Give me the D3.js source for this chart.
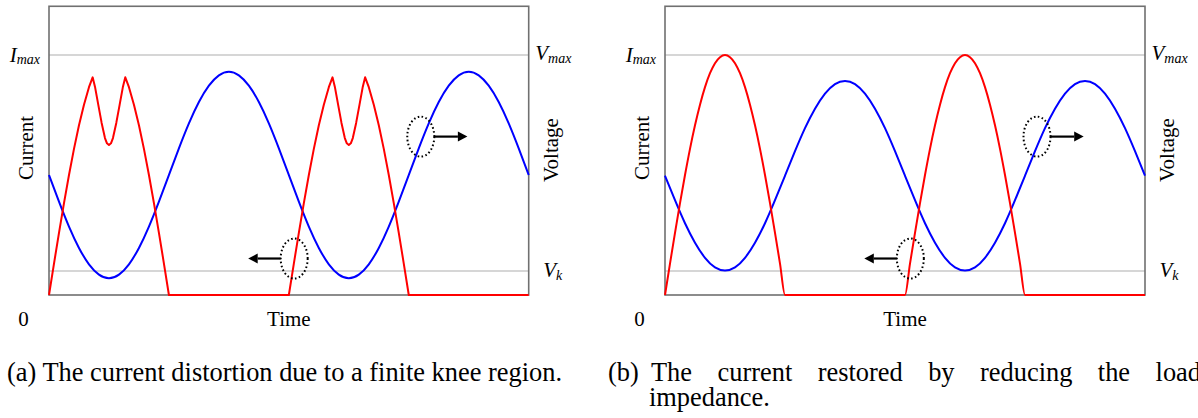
<!DOCTYPE html>
<html><head><meta charset="utf-8">
<script src="https://cdn.jsdelivr.net/npm/d3@7"></script>
<style>
html,body{margin:0;padding:0;background:#fff;overflow:hidden;}
svg{display:block;}
text{font-family:'Liberation Serif','Times New Roman',Times,'DejaVu Serif',serif;}
</style></head><body>
<svg id="chart" width="1198" height="418"></svg>
<script>
// ---- data (phase in degrees, values normalised so that Imax = Vmax = 1) ----
const voltagePhase = [0,15,30,45,60,75,90,105,120,135,150,165,180,195,210,225,240,255,270,285,300,315,330,345,
  360,375,390,405,420,435,450,465,480,495,510,525,540,555,570,585,600,615,630,645,660,675,690,705,720];
const voltageA = [0.500,0.389,0.285,0.196,0.128,0.085,0.070,0.085,0.128,0.196,0.285,0.389,0.500,0.611,0.715,0.804,0.872,0.915,0.930,0.915,0.872,0.804,0.715,0.611,
  0.500,0.389,0.285,0.196,0.128,0.085,0.070,0.085,0.128,0.196,0.285,0.389,0.500,0.611,0.715,0.804,0.872,0.915,0.930,0.915,0.872,0.804,0.715,0.611,0.500];
const voltageB = [0.497,0.395,0.299,0.218,0.155,0.115,0.102,0.115,0.155,0.218,0.299,0.395,0.497,0.599,0.695,0.776,0.839,0.879,0.892,0.879,0.839,0.776,0.695,0.599,
  0.497,0.395,0.299,0.218,0.155,0.115,0.102,0.115,0.155,0.218,0.299,0.395,0.497,0.599,0.695,0.776,0.839,0.879,0.892,0.879,0.839,0.776,0.695,0.599,0.497];

const currentAPhase = [0,7.5,15,22.5,30,37.5,45,52.5,60,65.5,69,74,79,84,87,90,93,96,101,106,111,114.5,120,127.5,135,142.5,150,157.5,165,172.5,180,
  360,367.5,375,382.5,390,397.5,405,412.5,420,425.5,429,434,439,444,447,450,453,456,461,466,471,474.5,480,487.5,495,502.5,510,517.5,525,532.5,540,720];
const currentA = [0,0.131,0.259,0.383,0.500,0.609,0.707,0.793,0.866,0.907,0.868,0.792,0.717,0.654,0.632,0.625,0.632,0.654,0.717,0.792,0.868,0.907,0.866,0.793,0.707,0.609,0.500,0.383,0.259,0.131,0,
  0,0.131,0.259,0.383,0.500,0.609,0.707,0.793,0.866,0.907,0.868,0.792,0.717,0.654,0.632,0.625,0.632,0.654,0.717,0.792,0.868,0.907,0.866,0.793,0.707,0.609,0.500,0.383,0.259,0.131,0,0];

const currentBPhase = [0,7.5,15,22.5,30,37.5,45,52.5,60,67.5,75,82.5,90,97.5,105,112.5,120,127.5,135,142.5,150,157.5,165,172.5,180,
  360,367.5,375,382.5,390,397.5,405,412.5,420,427.5,435,442.5,450,457.5,465,472.5,480,487.5,495,502.5,510,517.5,525,532.5,540,720];
const currentB = [0,0.131,0.259,0.383,0.500,0.609,0.707,0.793,0.866,0.924,0.966,0.991,1.000,0.991,0.966,0.924,0.866,0.793,0.707,0.609,0.500,0.383,0.259,0.131,0,
  0,0.131,0.259,0.383,0.500,0.609,0.707,0.793,0.866,0.924,0.966,0.991,1.000,0.991,0.966,0.924,0.866,0.793,0.707,0.609,0.500,0.383,0.259,0.131,0,0];

const gridLevels = [1, 0.1];          // Imax/Vmax and Vk
const topLevel = 1.203;
const markerPhase = [558, 368];       // dotted ellipses
const markerLevel = [0.66, 0.152];
const arrowTipPhase = [628, 299];
const captionA = "(a) The current distortion due to a finite knee region.";
const captionBLine1 = ["The","current","restored","by","reducing","the","load"];
const captionBLine2 = "impedance.";

// ---- layout ----
const panels = [
  {left:49, right:528.7, volt:voltageA, curPh:currentAPhase, cur:currentA, curve:d3.curveLinear},
  {left:665, right:1145, volt:voltageB, curPh:currentBPhase, cur:currentB, curve:d3.curveMonotoneX}
];
const svg = d3.select("#chart");
const FONT = "'Liberation Serif','Times New Roman',Times,'DejaVu Serif',serif";
const y = d3.scaleLinear().domain([0,1]).range([295,55]);
const FS = 21;

panels.forEach((p,pi)=>{
  const x = d3.scaleLinear().domain([0,720]).range([p.left,p.right]);
  const g = svg.append("g").attr("font-family",FONT).attr("fill","#000");
  g.selectAll("line.grid").data(gridLevels).join("line")
    .attr("x1",x(0)).attr("x2",x(720)).attr("y1",d=>y(d)).attr("y2",d=>y(d))
    .attr("stroke","#c8c8c8").attr("stroke-width",1.3);
  g.append("rect").attr("x",x(0)).attr("y",y(topLevel)).attr("width",x(720)-x(0)).attr("height",y(0)-y(topLevel))
    .attr("fill","none").attr("stroke","#707070").attr("stroke-width",1.6);
  const vLine = d3.line().x((d,i)=>x(voltagePhase[i])).y(d=>y(d)).curve(d3.curveNatural);
  g.append("path").attr("d",vLine(p.volt)).attr("fill","none").attr("stroke","#0000ff").attr("stroke-width",2);
  const cLine = d3.line().x((d,i)=>x(p.curPh[i])).y(d=>y(d)).curve(p.curve);
  g.append("path").attr("d",cLine(p.cur)).attr("fill","none").attr("stroke","#ff0000").attr("stroke-width",2)
    .attr("stroke-linejoin","round");
  const rx = 13.5, ry = 20;
  markerPhase.forEach((ph,i)=>{
    const cx = x(ph), cy = y(markerLevel[i]);
    g.append("ellipse").attr("cx",cx).attr("cy",cy).attr("rx",rx).attr("ry",ry)
      .attr("fill","none").attr("stroke","#000").attr("stroke-width",2).attr("stroke-dasharray","1.6 2.4");
    const tip = x(arrowTipPhase[i]);
    const dir = tip > cx ? 1 : -1;
    const start = cx + dir*rx;
    const headL = 9.5, headW = 5;
    g.append("line").attr("x1",start).attr("x2",tip - dir*headL).attr("y1",cy).attr("y2",cy)
      .attr("stroke","#000").attr("stroke-width",2.2);
    g.append("path").attr("d",`M${tip},${cy} L${tip-dir*headL},${cy-headW} L${tip-dir*headL},${cy+headW} Z`).attr("fill","#000");
  });
  const tI = g.append("text").attr("x",x(0)-9).attr("y",y(1)+7).attr("text-anchor","end")
    .attr("font-style","italic").attr("font-size",FS);
  tI.append("tspan").text("I");
  tI.append("tspan").attr("font-size",14).attr("dy",2).text("max");
  const tV = g.append("text").attr("x",x(720)+6.5).attr("y",y(1)+5)
    .attr("font-style","italic").attr("font-size",FS);
  tV.append("tspan").text("V");
  tV.append("tspan").attr("font-size",14).attr("dy",3).text("max");
  const tK = g.append("text").attr("x",x(720)+14.5).attr("y",y(0.1)+5.5)
    .attr("font-style","italic").attr("font-size",FS);
  tK.append("tspan").text("V");
  tK.append("tspan").attr("font-size",14).attr("dy",3).text("k");
  g.append("text").attr("transform",`translate(${x(0)-16},148) rotate(-90)`).attr("text-anchor","middle")
    .attr("font-size",FS).text("Current");
  g.append("text").attr("transform",`translate(${x(720)+29},150) rotate(-90)`).attr("text-anchor","middle")
    .attr("font-size",FS).text("Voltage");
  g.append("text").attr("x",x(0)-25.5).attr("y",326).attr("text-anchor","middle").attr("font-size",FS).text("0");
  g.append("text").attr("x",x(360)).attr("y",326).attr("text-anchor","middle").attr("font-size",FS).text("Time");
});

const CFS = 26.4;
const cap = svg.append("g").attr("font-family",FONT).attr("font-size",CFS).attr("fill","#000");
cap.append("text").attr("x",7).attr("y",381).text(captionA);
cap.append("text").attr("x",608).attr("y",381).text("(b)");
const words = captionBLine1.map(w=>cap.append("text").attr("y",381).text(w));
const widths = words.map(t=>t.node().getComputedTextLength());
const lineStart = 651, lineEnd = 1201;
const gap = (lineEnd - lineStart - d3.sum(widths))/(words.length-1);
let cx = lineStart;
words.forEach((t,i)=>{ t.attr("x",cx); cx += widths[i] + gap; });
cap.append("text").attr("x",lineStart-2).attr("y",406).text(captionBLine2);
</script>
</body></html>
